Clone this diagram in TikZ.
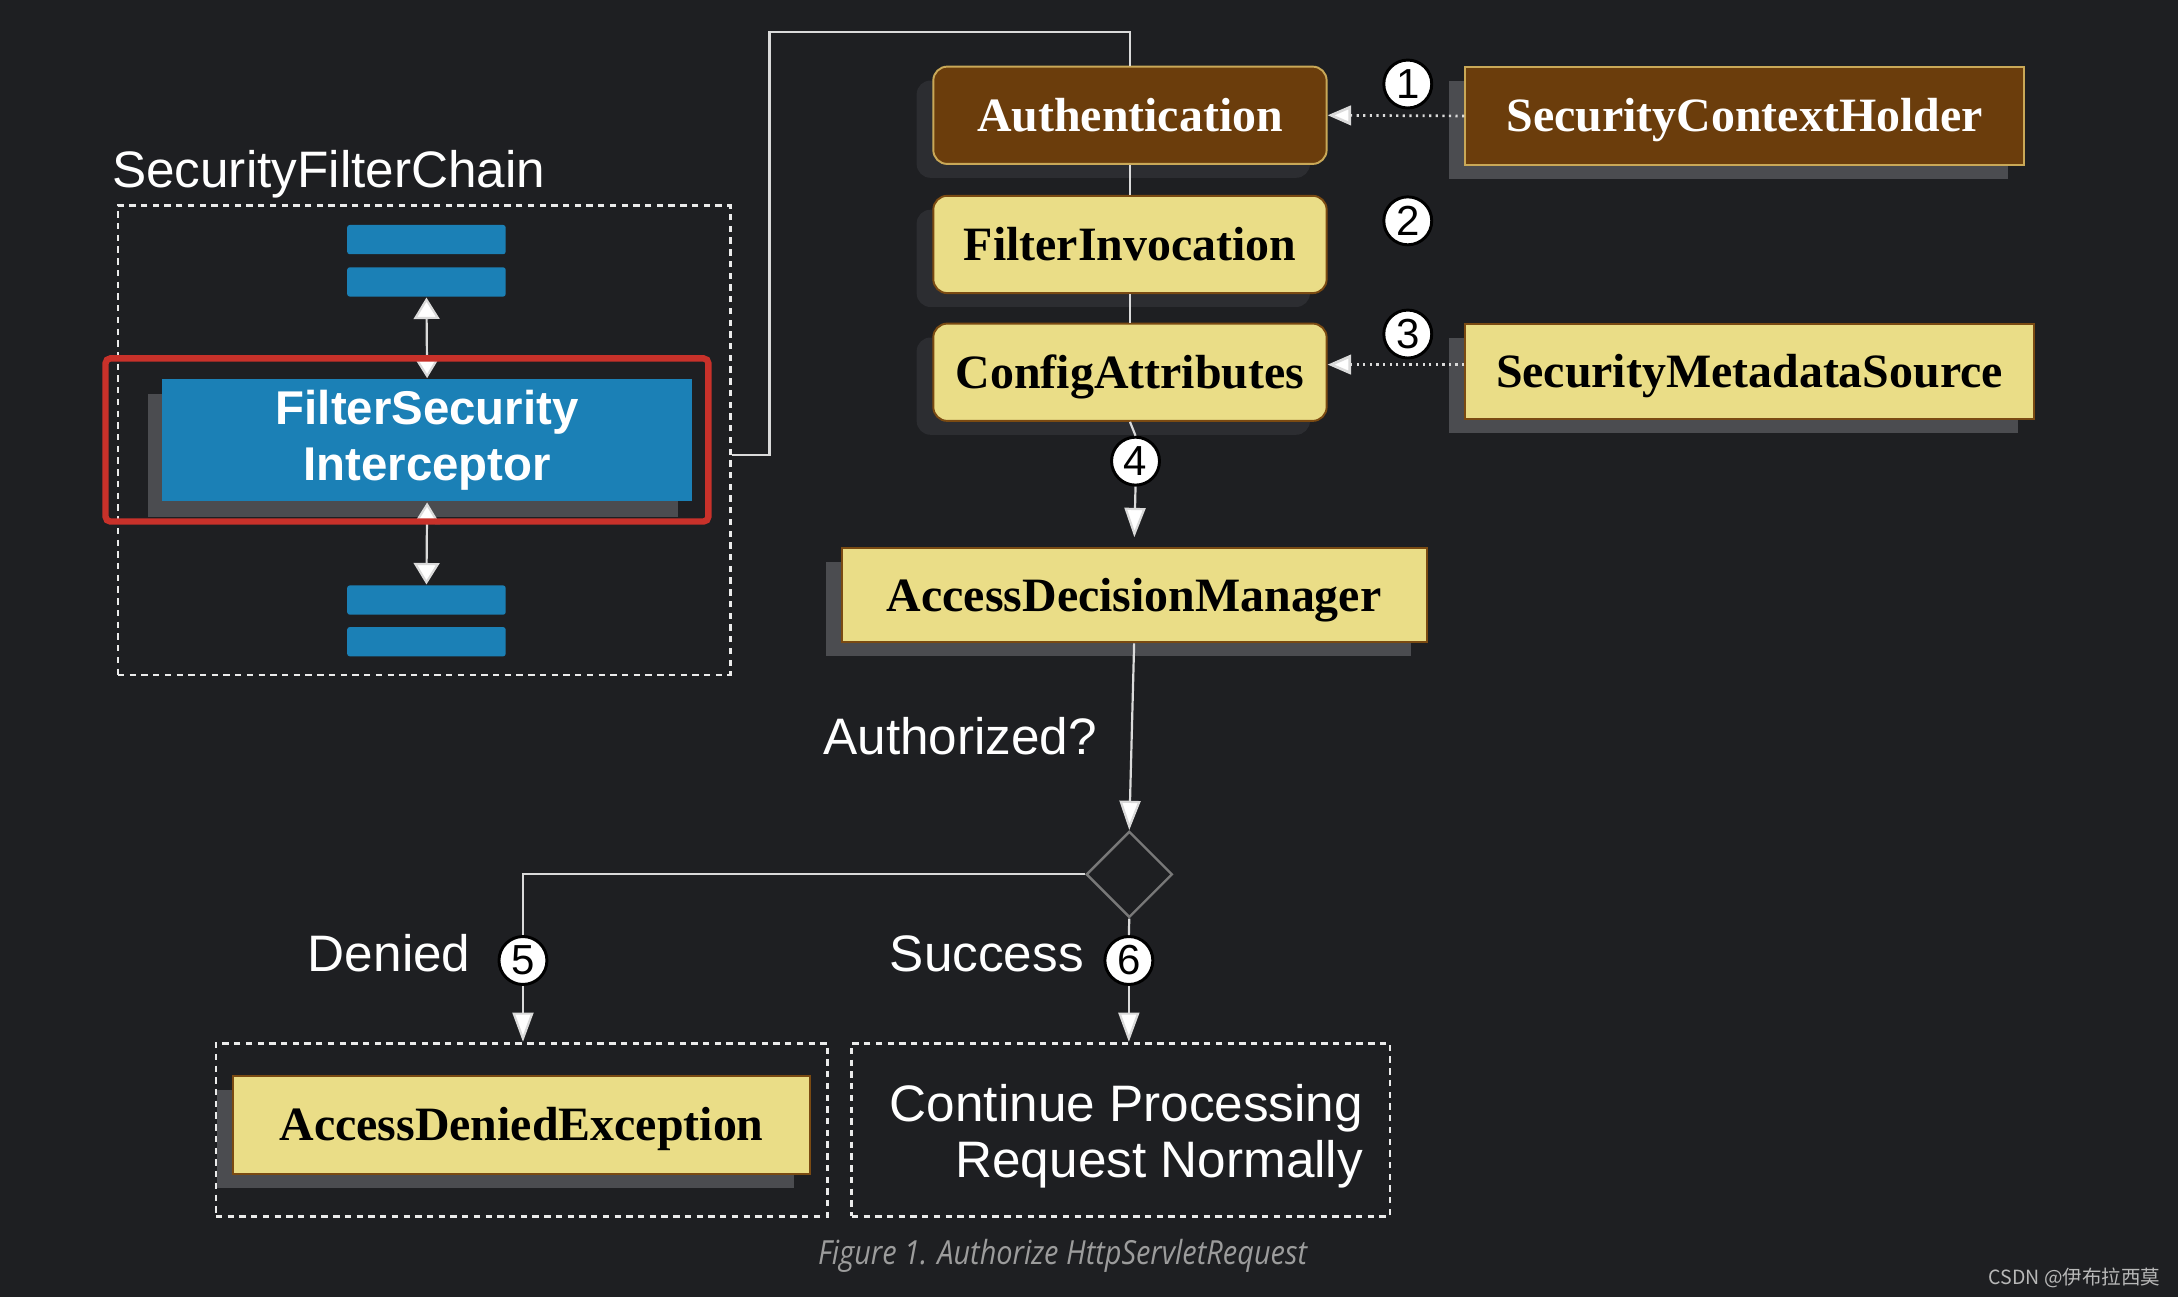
\documentclass[tikz,border=0pt]{standalone}
\usepackage{fontspec}
\setmainfont{Liberation Serif}
\setsansfont{Liberation Sans}
\newfontfamily\captionfont[FakeStretch=0.87]{Open Sans}
\newfontfamily\cjkfont{Noto Sans CJK SC}
\usetikzlibrary{arrows.meta,shapes.geometric,shadows}

\definecolor{pagebg}{HTML}{1E1F22}
\definecolor{chainblue}{HTML}{1B80B6}
\definecolor{authbrown}{HTML}{6B3D0C}
\definecolor{authedge}{HTML}{C9A857}
\definecolor{cfgyellow}{HTML}{EADD87}
\definecolor{cfgedge}{HTML}{7A4A12}
\definecolor{softshadow}{HTML}{2C2D31}
\definecolor{hardshadow}{HTML}{4B4C50}
\definecolor{linkgray}{HTML}{DADADA}
\definecolor{framered}{HTML}{C8312A}
\definecolor{decisiongray}{HTML}{787878}
\definecolor{captiongray}{HTML}{9C9C9C}

\tikzset{
    classbox/.style={minimum height=0.7cm, inner sep=0pt, text height=6.5pt, text depth=0pt, font=\rmfamily\bfseries\fontsize{9.8}{11}\selectfont},
    brownclass/.style={classbox, fill=authbrown, draw=authedge, line width=0.4pt, text=white},
    yellowclass/.style={classbox, fill=cfgyellow, draw=cfgedge, line width=0.4pt, text=black},
    roundshadow/.style={rounded corners=0.1cm, general shadow={fill=softshadow, shadow xshift=-0.12cm, shadow yshift=-0.1cm}},
    flatshadow/.style={general shadow={fill=hardshadow, shadow xshift=-0.115cm, shadow yshift=-0.1cm}},
    chainbar/.style={fill=chainblue, rounded corners=0.5pt, minimum width=1.14cm, minimum height=0.21cm, inner sep=0pt},
    stepnum/.style={circle, fill=white, draw=black, line width=0.6pt, minimum size=0.345cm, inner sep=0pt, text=black, font=\sffamily\fontsize{8.6}{8.6}\selectfont},
    dashframe/.style={draw=white!92!black, dash pattern=on 1.3pt off 1.1pt, line width=0.55pt, inner sep=0pt},
    flow/.style={draw=linkgray, line width=0.45pt},
    flowarrow/.style={-{Triangle[length=6pt,width=4.3pt,fill=white]}},
    dotlink/.style={draw=linkgray, line width=0.55pt, dash pattern=on 0.45pt off 0.9pt, -{Triangle[length=4.8pt,width=4pt,fill=white]}},
    sanslabel/.style={text=white, inner sep=0pt, font=\sffamily\fontsize{10.5}{11.4}\selectfont}
}

\begin{document}
\begin{tikzpicture}[x=0.01cm, y=-0.01cm]
    \fill[pagebg] (0,0) rectangle (1568,934);
    \useasboundingbox (0,0) rectangle (1568,934);

    \node[sanslabel, anchor=base west] (chaintitle) at (80,135) {SecurityFilterChain};
    \node[dashframe, minimum width=4.406cm, minimum height=3.377cm] (chain) at (305.3,316.9) {};
    \node[chainbar] (bar1) at (307,172.5) {};
    \node[chainbar] (bar2) at (307,203) {};
    \node[chainbar] (bar3) at (307,432) {};
    \node[chainbar] (bar4) at (307,462) {};
    \node[fill=chainblue, minimum width=3.81cm, minimum height=0.88cm, inner sep=0pt, align=center, text=white,
          font=\sffamily\bfseries\fontsize{9.7}{11.4}\selectfont,
          general shadow={fill=hardshadow, shadow xshift=-0.1cm, shadow yshift=-0.11cm}] (fsi) at (307.5,317) {FilterSecurity\\Interceptor};
    \draw[flow, {Triangle[length=4.4pt,width=5.3pt,fill=white]}-{Triangle[length=4.4pt,width=5.3pt,fill=white]}] (bar2.south) -- (fsi.north);
    \draw[flow, {Triangle[length=4.4pt,width=5.3pt,fill=white]}-{Triangle[length=4.4pt,width=5.3pt,fill=white]}] (fsi.south) -- (bar3.north);
    \draw[framered, line width=1.3pt, rounded corners=1pt] (76,258) rectangle (510,375.5);

    \node[brownclass, roundshadow, minimum width=2.83cm] (auth) at (813.5,83) {Authentication};
    \node[yellowclass, roundshadow, minimum width=2.83cm] (finv) at (813.5,176) {FilterInvocation};
    \node[yellowclass, roundshadow, minimum width=2.83cm] (cfg) at (813.5,268) {ConfigAttributes};
    \node[brownclass, flatshadow, minimum width=4.02cm] (holder) at (1256,83.5) {SecurityContextHolder};
    \node[yellowclass, flatshadow, minimum width=4.09cm, minimum height=0.68cm] (metasrc) at (1259.5,267.5) {SecurityMetadataSource};
    \node[yellowclass, flatshadow, minimum width=4.21cm, minimum height=0.68cm] (adm) at (816.5,428.5) {AccessDecisionManager};

    \node[stepnum] (n1) at (1013.5,60.5) {1};
    \node[stepnum] (n2) at (1013.5,159) {2};
    \node[stepnum] (n3) at (1013.5,240.5) {3};
    \node[stepnum] (n4) at (817.5,332) {4};

    \coordinate (bendtop) at (554,22.8);
    \draw[flow] ([yshift=-0.106cm]chain.east) -| (bendtop) -| (auth.north);
    \draw[flow] (auth.south) -- (finv.north);
    \draw[flow] (finv.south) -- (cfg.north);
    \draw[flow] (cfg.south) -- (n4.north);
    \draw[flow, flowarrow, shorten >=2pt] (n4.south) -- (adm.north);
    \draw[dotlink] (holder.west) -- (auth.east);
    \draw[dotlink] ([yshift=0.05cm]metasrc.west) -- ([yshift=0.05cm]metasrc.west -| cfg.east);

    \node[sanslabel, anchor=base west] (authq) at (592,543) {Authorized?};
    \node[diamond, draw=decisiongray, line width=0.5pt, minimum width=0.62cm, minimum height=0.62cm, inner sep=0pt] (dec) at (813,629.5) {};
    \draw[flow, flowarrow] (adm.south) -- (dec.north);

    \node[stepnum] (n5) at (376.5,691.5) {5};
    \node[stepnum] (n6) at (812.7,691.5) {6};
    \node[sanslabel, anchor=base west] (deniedlbl) at (221,699.5) {Denied};
    \node[sanslabel, anchor=base west] (successlbl) at (640,699.5) {Success};

    \node[dashframe, minimum width=4.40cm, minimum height=1.245cm] (denied) at (375.6,813.3) {};
    \node[dashframe, minimum width=3.873cm, minimum height=1.245cm] (success) at (807,813.3) {};
    \node[yellowclass, flatshadow, minimum width=4.15cm] (ade) at (375.5,810) {AccessDeniedException};
    \node[sanslabel, anchor=base east, align=right] (cont) at (982,847.5) {Continue Processing\\Request Normally};

    \draw[flow] (dec.west) -| (n5.north);
    \draw[flow, flowarrow] (n5.south) -- (n5.south |- denied.north);
    \draw[flow] (dec.south) -- (n6.north);
    \draw[flow, flowarrow] (n6.south) -- (n6.south |- success.north);

    \node[anchor=base, inner sep=0pt, text=captiongray, font=\captionfont\itshape\fontsize{6.8}{7}\selectfont] (caption) at (765,910.7) {Figure 1. Authorize HttpServletRequest};
    \node[anchor=base east, inner sep=0pt, text=white!72!black, font=\cjkfont\fontsize{4}{5}\selectfont] (mark) at (1556,925) {CSDN @伊布拉西莫};
\end{tikzpicture}
\end{document}
